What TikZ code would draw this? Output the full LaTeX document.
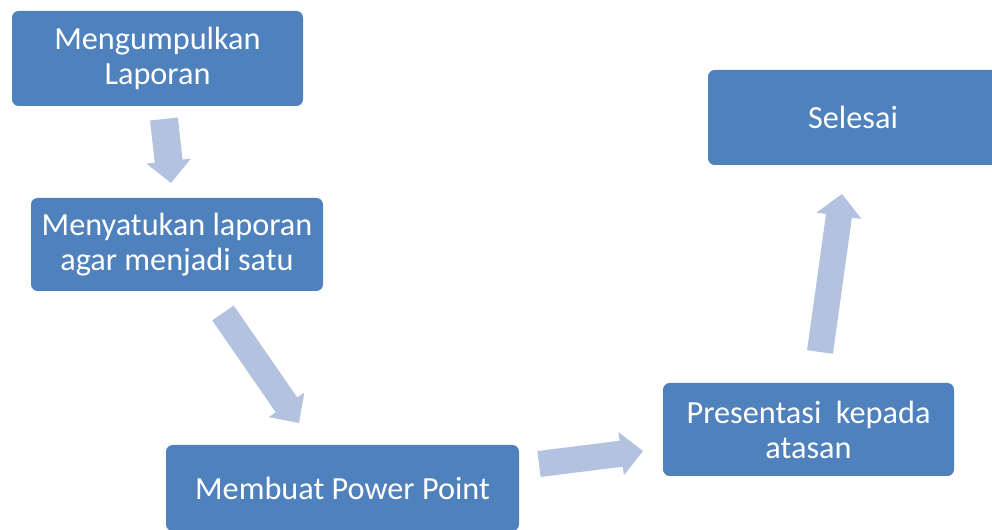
\documentclass[tikz,border=0pt]{standalone}
\usepackage{fontspec}
\setmainfont{Carlito}
\usetikzlibrary{calc}
\definecolor{boxblue}{HTML}{4F81BD}
\definecolor{arrowblue}{HTML}{B3C3DF}
\newcommand\blockarr[5]{% tail, tip, shaft half width, head half width, head length
  \coordinate (hb) at ($(#2)!#5!(#1)$);
  \fill[arrowblue]
    ($(#1)!#3!90:(#2)$) -- ($(hb)!#3!90:(#2)$) -- ($(hb)!#4!90:(#2)$) -- (#2)
    -- ($(hb)!#4!-90:(#2)$) -- ($(hb)!#3!-90:(#2)$) -- ($(#1)!#3!-90:(#2)$) -- cycle;
}
\begin{document}
\begin{tikzpicture}[x=0.75pt,y=-0.75pt,
  box/.style={fill=boxblue, rounded corners=5pt, text=white, align=center,
    font=\fontsize{24.2}{26.3}\selectfont, inner sep=0pt}]
\useasboundingbox (0,0) rectangle (992,530);
\clip (0,0) rectangle (992,530);
\node[box, minimum width=218.25pt, minimum height=71.25pt] (b1) at (157.5,58.5) {Mengumpulkan\\Laporan};
\node[box, minimum width=219pt, minimum height=69.75pt] (b2) at (177,244.5) {Menyatukan laporan\\agar menjadi satu};
\node[box, minimum width=264.75pt, minimum height=64.5pt] (b3) at (342.5,488) {Membuat Power Point};
\node[box, minimum width=218.25pt, minimum height=69.75pt] (b4) at (808.5,429.5) {Presentasi\ \ kepada\\atasan};
\node[box, minimum width=217.5pt, minimum height=71.25pt] (b5) at (853,117.5) {Selesai};
\coordinate (a1s) at (164,119); \coordinate (a1e) at (171,183);
\coordinate (a2s) at (223,313); \coordinate (a2e) at (299,423);
\coordinate (a3s) at (539,464); \coordinate (a3e) at (643,451);
\coordinate (a4s) at (820,352); \coordinate (a4e) at (842,194);
\blockarr{a1s}{a1e}{10.5pt}{16.8pt}{16.5pt}
\blockarr{a2s}{a2e}{9.8pt}{16.2pt}{16.5pt}
\blockarr{a3s}{a3e}{9.8pt}{16.3pt}{16.5pt}
\blockarr{a4s}{a4e}{9.8pt}{17pt}{16.5pt}
\end{tikzpicture}
\end{document}
